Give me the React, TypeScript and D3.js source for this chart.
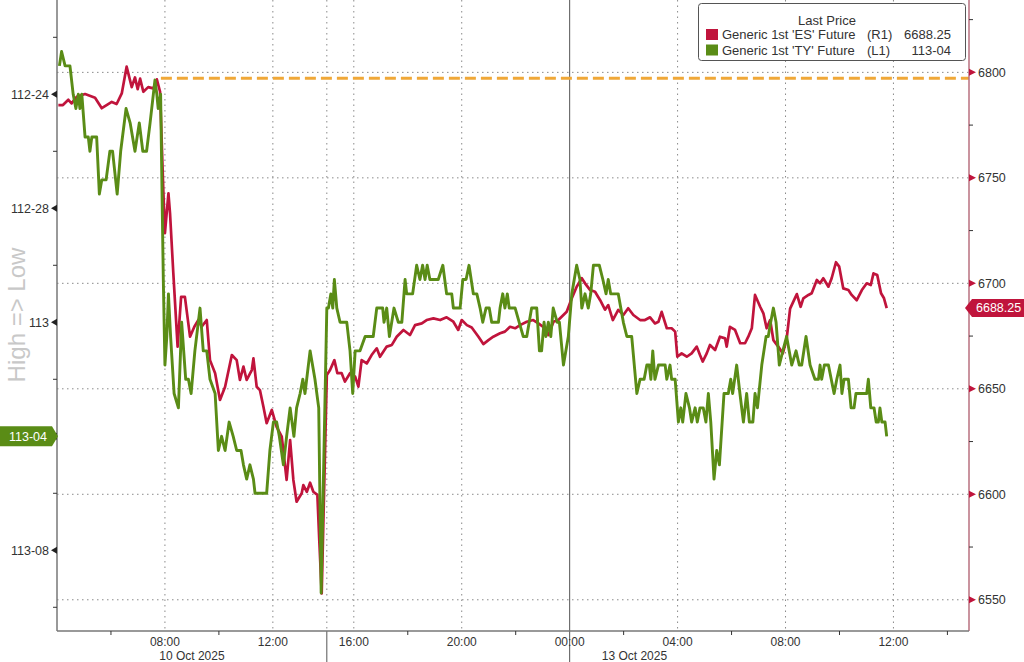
import React from "react";
import * as d3 from "d3";

const W = 1024;
const H = 662;

// time axis: trading hours since Fri 10 Oct 2025 04:00, with the weekend gap
// (Fri 14:00 -> Sun 15:00) collapsed at hour 10
// Generic 1st 'ES' Future (right axis)
const esSeries: [number, number][] = [
  [0.05, 6784.5], [0.22, 6784.5], [0.42, 6787], [0.54, 6785.3], [0.73, 6788.4], [1.04, 6789.7],
  [1.41, 6788], [1.66, 6783], [2.03, 6786], [2.21, 6785], [2.4, 6790], [2.58, 6802.7],
  [2.77, 6793], [2.89, 6797.6], [2.99, 6792], [3.08, 6797], [3.2, 6790.8], [3.38, 6793],
  [3.57, 6792.4], [3.7, 6796.7], [3.82, 6790.8], [3.94, 6744], [4.0, 6723.8], [4.13, 6742.7],
  [4.19, 6733], [4.31, 6705], [4.47, 6670], [4.6, 6693.6], [4.74, 6693.6], [4.93, 6674.7],
  [5.09, 6679.4], [5.24, 6682.6], [5.36, 6679.4], [5.55, 6682.6], [5.67, 6663.6], [5.86, 6657.4],
  [6.04, 6644.7], [6.23, 6651], [6.48, 6666], [6.66, 6663.6], [6.78, 6654.2], [6.91, 6660.5],
  [7.03, 6654.2], [7.22, 6658.9], [7.28, 6664.4], [7.4, 6651], [7.52, 6649.4], [7.65, 6641.5],
  [7.77, 6633.7], [7.96, 6640], [8.14, 6632], [8.33, 6627.3], [8.51, 6606.8], [8.64, 6625.7],
  [8.76, 6606.8], [8.88, 6596.5], [9.07, 6600.5], [9.13, 6604.4], [9.26, 6601.2], [9.38, 6605.5],
  [9.5, 6601.2], [9.65, 6599.7], [9.72, 6578.3], [9.81, 6553],
  [10.0, 6656.5], [10.12, 6658.9], [10.28, 6663.6], [10.39, 6657.4], [10.55, 6657.4], [10.67, 6653.4],
  [10.86, 6657.4], [11.05, 6655.8], [11.17, 6651], [11.29, 6663.6], [11.48, 6662], [11.66, 6666],
  [11.85, 6669.2], [11.97, 6665.2], [12.22, 6670], [12.41, 6670.8], [12.59, 6674.7], [12.84, 6677.9],
  [13.08, 6675.5], [13.27, 6680.2], [13.52, 6681], [13.7, 6682.6], [13.95, 6683.4], [14.2, 6682.6],
  [14.44, 6683.9], [14.69, 6681.8], [14.87, 6677.9], [15.0, 6682.6], [15.19, 6680.2], [15.37, 6679.1],
  [15.62, 6674.7], [15.8, 6671.2], [15.99, 6673.1], [16.17, 6674.7], [16.42, 6676.3], [16.6, 6677.1],
  [16.79, 6679.4], [16.98, 6678.7], [17.16, 6680.2], [17.41, 6681.8], [17.65, 6682.6], [17.84, 6681],
  [18.02, 6679.4], [18.21, 6675.5], [18.4, 6681.8], [18.58, 6682.6], [18.89, 6686.5], [19.08, 6692.9],
  [19.26, 6698.4], [19.45, 6702.4], [19.57, 6700], [19.76, 6696.8], [19.94, 6696], [20.13, 6692],
  [20.31, 6687.5], [20.43, 6689.7], [20.6, 6682.6], [20.8, 6687.4], [20.99, 6685], [21.17, 6688.2],
  [21.36, 6685], [21.61, 6682.6], [21.79, 6682.6], [21.98, 6683.9], [22.16, 6681], [22.29, 6681.8],
  [22.41, 6686.5], [22.6, 6678.7], [22.78, 6678.7], [22.91, 6677.1], [22.99, 6665.2], [23.15, 6666.8],
  [23.34, 6665.2], [23.52, 6666.8], [23.71, 6670], [23.83, 6666], [23.93, 6662.9], [24.08, 6666.8],
  [24.2, 6670.8], [24.39, 6668.4], [24.57, 6674.7], [24.76, 6673.9], [24.82, 6670], [24.94, 6679.4],
  [25.13, 6677.9], [25.32, 6671.6], [25.5, 6671.6], [25.62, 6674.7], [25.75, 6678.7], [25.87, 6694.5],
  [26.06, 6688.9], [26.18, 6685.8], [26.3, 6678.7], [26.43, 6682.6], [26.55, 6673.1], [26.73, 6670],
  [26.9, 6666.8], [27.04, 6673.5], [27.17, 6688], [27.35, 6693], [27.42, 6694.9], [27.56, 6688.9],
  [27.66, 6692.9], [27.85, 6694.5], [27.97, 6695.3], [28.16, 6701.6], [28.28, 6700], [28.4, 6702.4],
  [28.59, 6698.4], [28.71, 6702.4], [28.87, 6710], [28.99, 6707.9], [29.14, 6697.6], [29.33, 6696.8],
  [29.45, 6694.5], [29.64, 6692], [29.83, 6696.8], [30.01, 6700], [30.16, 6699.2], [30.26, 6704.7],
  [30.4, 6703.9], [30.54, 6695.3], [30.65, 6692.9], [30.75, 6688.25],
];

// Generic 1st 'TY' Future (left axis, inverted), decimal price
const tySeries: [number, number][] = [
  [0.09, 112.7188], [0.17, 112.7031], [0.3, 112.7188], [0.48, 112.7188], [0.6, 112.75], [0.7, 112.7656],
  [0.79, 112.75], [0.85, 112.7656], [0.92, 112.75], [1.04, 112.7969], [1.16, 112.7969], [1.22, 112.8125],
  [1.29, 112.7969], [1.47, 112.7969], [1.57, 112.8594], [1.66, 112.8438], [1.82, 112.8438], [1.96, 112.8125],
  [2.06, 112.8125], [2.23, 112.8594], [2.36, 112.8125], [2.56, 112.7656], [2.71, 112.7813], [2.89, 112.8125],
  [3.05, 112.7813], [3.18, 112.8125], [3.32, 112.8125], [3.45, 112.7813], [3.57, 112.75], [3.63, 112.7344],
  [3.7, 112.75], [3.75, 112.7656], [3.84, 112.75], [3.94, 112.9531], [4.0, 113.0469], [4.07, 113.0156],
  [4.13, 112.9688], [4.21, 113.0156], [4.34, 113.0781], [4.5, 113.0938], [4.62, 113.0], [4.77, 113.0625],
  [4.87, 113.0625], [4.97, 113.0781], [5.11, 113.0313], [5.3, 112.9844], [5.42, 113.0313], [5.55, 113.0313],
  [5.67, 113.0625], [5.86, 113.0781], [5.98, 113.1406], [6.1, 113.125], [6.23, 113.1406], [6.38, 113.1094],
  [6.53, 113.125], [6.66, 113.1406], [6.82, 113.1406], [6.91, 113.1563], [7.03, 113.1719], [7.15, 113.1563],
  [7.28, 113.1719], [7.34, 113.1875], [7.77, 113.1875], [7.89, 113.1406], [8.02, 113.1094], [8.14, 113.1094],
  [8.24, 113.125], [8.39, 113.1563], [8.51, 113.125], [8.64, 113.0938], [8.78, 113.125], [8.88, 113.0938],
  [9.01, 113.0781], [9.11, 113.0625], [9.19, 113.0781], [9.38, 113.0313], [9.56, 113.0625], [9.7, 113.0938],
  [9.79, 113.2969],
  [10.0, 112.9844], [10.06, 112.9844], [10.15, 112.9688], [10.22, 112.9844], [10.28, 112.9531], [10.37, 112.9844],
  [10.49, 113.0], [10.74, 113.0], [10.86, 113.0313], [10.96, 113.0781], [11.05, 113.0313], [11.23, 113.0313],
  [11.42, 113.0156], [11.72, 113.0156], [11.85, 112.9844], [12.07, 112.9844], [12.12, 113.0], [12.22, 112.9844],
  [12.32, 113.0156], [12.49, 112.9844], [12.65, 113.0], [12.78, 113.0], [12.9, 112.9531], [12.96, 112.9688],
  [13.18, 112.9688], [13.33, 112.9375], [13.45, 112.9531], [13.55, 112.9375], [13.64, 112.9531], [13.72, 112.9375],
  [13.82, 112.9531], [14.13, 112.9531], [14.3, 112.9375], [14.44, 112.9688], [14.63, 112.9688], [14.69, 112.9844],
  [14.94, 112.9844], [15.04, 112.9531], [15.16, 112.9531], [15.27, 112.9375], [15.43, 112.9688], [15.56, 112.9688],
  [15.68, 112.9844], [15.78, 113.0], [15.9, 112.9844], [16.02, 112.9844], [16.11, 113.0], [16.36, 113.0],
  [16.42, 112.9844], [16.52, 112.9688], [16.6, 112.9844], [16.69, 112.9688], [16.76, 112.9844], [16.98, 112.9844],
  [17.13, 113.0], [17.28, 113.0156], [17.41, 113.0156], [17.59, 112.9844], [17.78, 112.9844], [17.88, 113.0313],
  [17.96, 113.0313], [18.05, 113.0], [18.12, 113.0156], [18.21, 113.0], [18.3, 113.0156], [18.39, 112.9844],
  [18.54, 113.0], [18.62, 113.0], [18.77, 113.0469], [18.95, 113.0156], [19.08, 112.9688], [19.26, 112.9375],
  [19.38, 112.9531], [19.45, 112.9844], [19.57, 112.9688], [19.69, 112.9844], [19.78, 112.9688], [19.88, 112.9375],
  [20.1, 112.9375], [20.23, 112.9531], [20.35, 112.9688], [20.43, 112.9531], [20.52, 112.9688], [20.8, 112.9688],
  [20.99, 113.0], [21.12, 113.0156], [21.3, 113.0156], [21.49, 113.0781], [21.61, 113.0625], [21.76, 113.0625],
  [21.86, 113.0469], [21.95, 113.0469], [22.01, 113.0625], [22.08, 113.0313], [22.16, 113.0625], [22.29, 113.0469],
  [22.54, 113.0469], [22.6, 113.0625], [22.72, 113.0469], [22.78, 113.0625], [22.91, 113.0625], [23.03, 113.1094],
  [23.12, 113.0938], [23.19, 113.1094], [23.31, 113.0781], [23.44, 113.0938], [23.52, 113.1094], [23.65, 113.0938],
  [23.73, 113.1094], [23.83, 113.0938], [23.95, 113.0938], [24.05, 113.1094], [24.14, 113.0781], [24.23, 113.1094],
  [24.35, 113.1719], [24.45, 113.1406], [24.55, 113.1563], [24.72, 113.0781], [24.88, 113.0781], [24.97, 113.0625],
  [25.04, 113.0781], [25.19, 113.0469], [25.31, 113.0781], [25.44, 113.1094], [25.56, 113.0781], [25.66, 113.1094],
  [25.79, 113.1094], [25.87, 113.0781], [25.96, 113.0938], [26.12, 113.0469], [26.28, 113.0156], [26.36, 113.0156],
  [26.45, 113.0], [26.55, 112.9844], [26.65, 113.0], [26.77, 113.0469], [26.9, 113.0313], [27.04, 113.0156],
  [27.23, 113.0469], [27.39, 113.0313], [27.51, 113.0469], [27.6, 113.0469], [27.76, 113.0156], [27.91, 113.0469],
  [28.09, 113.0625], [28.22, 113.0625], [28.28, 113.0469], [28.34, 113.0625], [28.44, 113.0469], [28.59, 113.0469],
  [28.8, 113.0781], [28.9, 113.0625], [29.02, 113.0469], [29.09, 113.0781], [29.17, 113.0625], [29.33, 113.0625],
  [29.43, 113.0938], [29.54, 113.0938], [29.61, 113.0781], [30.01, 113.0781], [30.07, 113.0625], [30.16, 113.0938],
  [30.28, 113.0938], [30.36, 113.1094], [30.44, 113.1094], [30.5, 113.0938], [30.57, 113.1094], [30.69, 113.1094],
  [30.75, 113.125],
];

const timeTicks = [4, 8, 11, 15, 19, 23, 27, 31];
const timeTickLabels = ["08:00", "12:00", "16:00", "20:00", "00:00", "04:00", "08:00", "12:00"];
const minorTimeTicks = [2, 6, 13, 17, 21, 25, 29, 33];
const sessionBreak = 10;
const dayBreak = 19;
const dateLabels = ["10 Oct 2025", "13 Oct 2025"];
const dateLabelHours = [5.0, 21.4];

const esTicks = [6550, 6600, 6650, 6700, 6750, 6800];
const esMinorTicks = [6575, 6625, 6675, 6725, 6775, 6825];
const tyTicks = [112.75, 112.875, 113, 113.125, 113.25];
const tyTickLabels = ["112-24", "112-28", "113", "113-04", "113-08"];
const tyMinorTicks = [112.6875, 112.8125, 112.9375, 113.0625, 113.1875, 113.3125];

const esLast = 6688.25;
const esLastLabel = "6688.25";
const tyLast = 113.125;
const tyLastLabel = "113-04";
const refLevel = 6797.25;
const refStartHour = 3.85;

const legendTitle = "Last Price";
const legendNames = ["Generic 1st 'ES' Future", "Generic 1st 'TY' Future"];
const legendAxes = ["(R1)", "(L1)"];
const legendValues = [esLastLabel, tyLastLabel];

const RED = "#c0143c";
const GREEN = "#5a8c16";
const FONT = "'Liberation Sans', Arial, sans-serif";

export default function App() {
  const L = 57, R = 969, T = 0, B = 631;
  const x = d3.scaleLinear().domain([0, 33.8]).range([L, R]);
  const yES = d3.scaleLinear().domain([6535.2, 6834.3]).range([B, T]);
  const yTY = d3.scaleLinear().domain([112.6466, 113.3385]).range([T, B]);

  const esLine = d3.line<[number, number]>().x((d) => x(d[0])).y((d) => yES(d[1]));
  const tyLine = d3.line<[number, number]>().x((d) => x(d[0])).y((d) => yTY(d[1]));

  const yEsLast = yES(esLast);
  const yTyLast = yTY(tyLast);
  const legendColors = [RED, GREEN];

  return (
    <svg width={W} height={H} style={{ position: "absolute", left: 0, top: 0, background: "#fff" }} fontFamily={FONT}>
      <rect x={0} y={0} width={W} height={H} fill="#fff" />
      {/* horizontal grid (right axis) */}
      {esTicks.map((v) => (
        <line key={"hg" + v} x1={L} x2={R} y1={yES(v)} y2={yES(v)} stroke="#8a8a8a" strokeWidth={1} strokeDasharray="1.5,3.5" />
      ))}
      {/* vertical grid */}
      {timeTicks.filter((t) => t !== dayBreak).map((t) => (
        <line key={"vg" + t} x1={x(t)} x2={x(t)} y1={T} y2={B} stroke="#8a8a8a" strokeWidth={1} strokeDasharray="1.5,4" />
      ))}
      <line x1={x(sessionBreak)} x2={x(sessionBreak)} y1={T} y2={B} stroke="#8a8a8a" strokeWidth={1} strokeDasharray="1.5,4" />
      <line x1={x(dayBreak)} x2={x(dayBreak)} y1={T} y2={H} stroke="#555" strokeWidth={1} />
      <line x1={x(sessionBreak)} x2={x(sessionBreak)} y1={B} y2={H} stroke="#555" strokeWidth={1} />

      {/* reference level */}
      <line x1={x(refStartHour)} x2={R} y1={yES(refLevel)} y2={yES(refLevel)} stroke="#f0a838" strokeWidth={3} strokeDasharray="11,5" />

      {/* series */}
      <path d={esLine(esSeries) || ""} fill="none" stroke={RED} strokeWidth={2.7} strokeLinejoin="round" />
      <path d={tyLine(tySeries) || ""} fill="none" stroke={GREEN} strokeWidth={2.9} strokeLinejoin="round" />

      {/* axes lines */}
      <line x1={L} x2={L} y1={T} y2={B} stroke="#777" strokeWidth={1.5} />
      <line x1={R} x2={R} y1={T} y2={B} stroke="#b8707f" strokeWidth={1.5} />
      <line x1={L} x2={R} y1={B} y2={B} stroke="#777" strokeWidth={1.5} />

      {/* left axis ticks */}
      {tyMinorTicks.map((v) => (
        <line key={"lm" + v} x1={L - 4} x2={L} y1={yTY(v)} y2={yTY(v)} stroke="#333" strokeWidth={1} />
      ))}
      {tyTicks.map((v, i) => (
        <g key={"lt" + v}>
          <path d={`M${L - 6},${yTY(v)} L${L},${yTY(v) - 3.5} L${L},${yTY(v) + 3.5} Z`} fill="#222" />
          <text x={L - 8} y={yTY(v)} dy="0.35em" textAnchor="end" fontSize={12.5} fill="#333">{tyTickLabels[i]}</text>
        </g>
      ))}

      {/* right axis ticks */}
      {esMinorTicks.map((v) => (
        <line key={"rm" + v} x1={R} x2={R + 4} y1={yES(v)} y2={yES(v)} stroke="#333" strokeWidth={1} />
      ))}
      {esTicks.map((v) => (
        <g key={"rt" + v}>
          <path d={`M${R},${yES(v) - 3.5} L${R + 7},${yES(v)} L${R},${yES(v) + 3.5} Z`} fill={RED} />
          <text x={R + 9} y={yES(v)} dy="0.35em" textAnchor="start" fontSize={12.5} fill="#333">{v}</text>
        </g>
      ))}

      {/* bottom axis ticks */}
      {minorTimeTicks.map((t) => (
        <line key={"bm" + t} x1={x(t)} x2={x(t)} y1={B} y2={B + 4} stroke="#333" strokeWidth={1} />
      ))}
      {timeTicks.map((t, i) => (
        <text key={"bt" + t} x={x(t)} y={B + 15} textAnchor="middle" fontSize={12} fill="#333">{timeTickLabels[i]}</text>
      ))}
      {dateLabels.map((lab, i) => (
        <text key={"dl" + i} x={x(dateLabelHours[i])} y={B + 29} textAnchor="middle" fontSize={12} fill="#333">{lab}</text>
      ))}

      {/* High => Low */}
      <text transform={`translate(17,${315}) rotate(-90)`} textAnchor="middle" dy="0.35em" fontSize={24} fill="#c8c8c8">High =&gt; Low</text>

      {/* last value tags */}
      <path d={`M${R - 4},${yEsLast} L${R + 3},${yEsLast - 9} H${W} V${yEsLast + 9} H${R + 3} Z`} fill={RED} />
      <text x={R + 7} y={yEsLast} dy="0.35em" fontSize={12.5} fill="#fff">{esLastLabel}</text>
      <path d={`M0,${yTyLast - 10} H${L - 5} L${L + 1},${yTyLast} L${L - 5},${yTyLast + 10} H0 Z`} fill={GREEN} />
      <text x={28} y={yTyLast} dy="0.35em" textAnchor="middle" fontSize={12.5} fill="#fff">{tyLastLabel}</text>

      {/* legend */}
      <rect x={698.5} y={3.5} width={267} height={57} rx={3} fill="#fff" stroke="#555" strokeWidth={1} />
      <text x={827} y={20} dy="0.35em" textAnchor="middle" fontSize={13} fill="#333">{legendTitle}</text>
      {legendNames.map((n, i) => {
        const cy = 34.5 + i * 15.5;
        return (
          <g key={"lg" + i}>
            <rect x={706} y={cy - 5.5} width={12} height={11} fill={legendColors[i]} />
            <text x={722} y={cy} dy="0.35em" fontSize={13} fill="#333">{n}</text>
            <text x={867} y={cy} dy="0.35em" fontSize={13} fill="#333">{legendAxes[i]}</text>
            <text x={951} y={cy} dy="0.35em" textAnchor="end" fontSize={13} fill="#333">{legendValues[i]}</text>
          </g>
        );
      })}
    </svg>
  );
}
